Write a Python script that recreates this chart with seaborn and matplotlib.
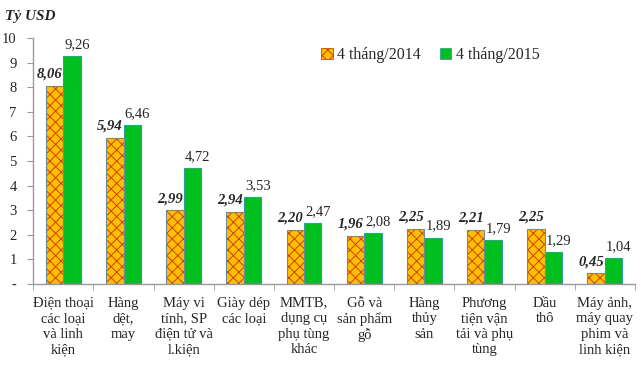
import pandas as pd
import numpy as np
import matplotlib.pyplot as plt
import seaborn as sns

categories = ["Điện thoại\ncác loại\nvà linh\nkiện", "Hàng\ndệt,\nmay",
              "Máy vi\ntính, SP\nđiện tử và\nl.kiện", "Giày dép\ncác loại",
              "MMTB,\ndụng cụ\nphụ tùng\nkhác", "Gỗ và\nsản phẩm\ngỗ",
              "Hàng\nthủy\nsản", "Phương\ntiện vận\ntải và phụ\ntùng",
              "Dầu\nthô", "Máy ảnh,\nmáy quay\nphim và\nlinh kiện"]
val_2014 = [8.06, 5.94, 2.99, 2.94, 2.20, 1.96, 2.25, 2.21, 2.25, 0.45]
val_2015 = [9.26, 6.46, 4.72, 3.53, 2.47, 2.08, 1.89, 1.79, 1.29, 1.04]
series = ["4 tháng/2014", "4 tháng/2015"]
yticks = [0, 1, 2, 3, 4, 5, 6, 7, 8, 9, 10]
ytick_labels = ["-", "1", "2", "3", "4", "5", "6", "7", "8", "9", "10"]

sns.set_style("white")
plt.rcParams['font.family'] = ['Liberation Serif', 'DejaVu Serif']
plt.rcParams['hatch.color'] = '#e02010'
plt.rcParams['hatch.linewidth'] = 0.7

df = pd.DataFrame({
    'cat': categories * 2,
    'val': val_2014 + val_2015,
    'series': [series[0]] * len(categories) + [series[1]] * len(categories),
})

fig = plt.figure(figsize=(6.4, 3.66), dpi=100)
ax = fig.add_axes([0.052, 0.224, 0.940, 0.672])
sns.barplot(data=df, x='cat', y='val', hue='series', palette=['#ffc000', '#00c020'],
            width=0.58, gap=0, ax=ax, saturation=1, errorbar=None)

n = len(categories)
for i, p in enumerate(ax.patches[:2 * n]):
    if i < n:
        p.set_hatch('xxx')
        p.set_edgecolor('#d04010')
        p.set_linewidth(0)
    else:
        p.set_edgecolor('#3a9a9a')
        p.set_linewidth(0.8)

# outline for hatched bars
for p in ax.patches[:n]:
    r = plt.Rectangle((p.get_x(), p.get_y()), p.get_width(), p.get_height(),
                      fill=False, edgecolor='#6a8aa0', linewidth=0.8)
    ax.add_patch(r)

for i in range(n):
    p1 = ax.patches[i]
    p2 = ax.patches[n + i]
    ax.text(p1.get_x() + p1.get_width() - 0.01, p1.get_height() + 0.2,
            f"{val_2014[i]:.2f}".replace('.', ','), ha='right', va='bottom',
            fontsize=10.5, fontweight='bold', fontstyle='italic')
    ax.text(p2.get_x() + 0.02, p2.get_height() + 0.2,
            f"{val_2015[i]:.2f}".replace('.', ','), ha='left', va='bottom',
            fontsize=10.5)

ax.set_ylim(0, 10)
ax.set_xlim(-0.5, n - 0.5)
ax.set_yticks(yticks)
ax.set_yticklabels(ytick_labels, fontsize=10.5)
ax.set_xticks(range(n))
ax.set_xticklabels(categories, fontsize=10.5, linespacing=1.25)
ax.set_xticks(np.arange(-0.5, n, 1), minor=True)
ax.tick_params(axis='x', which='major', length=0, pad=9)
ax.tick_params(axis='x', which='minor', length=4, color='#999999', direction='out', bottom=True)
ax.tick_params(axis='y', length=4, color='#999999', direction='out', left=True, pad=8)
ax.set_xlabel('')
ax.set_ylabel('')
sns.despine(ax=ax)
for s in ['left', 'bottom']:
    ax.spines[s].set_color('#999999')
    ax.spines[s].set_linewidth(1)

leg = ax.legend(loc='center left', bbox_to_anchor=(0.455, 0.93), ncol=2, frameon=False,
                fontsize=11.5, handlelength=0.7, handleheight=0.7, handletextpad=0.3,
                columnspacing=1.2)
hs = leg.legend_handles
hs[0].set_hatch('xxx')
hs[0].set_edgecolor('#d04010')
hs[1].set_edgecolor('#3a9a9a')
for h in hs:
    h.set_linewidth(0.6)

fig.text(0.008, 0.945, "Tỷ USD", fontsize=11, fontweight='bold', fontstyle='italic')

fig.savefig('out.png', dpi=100)
